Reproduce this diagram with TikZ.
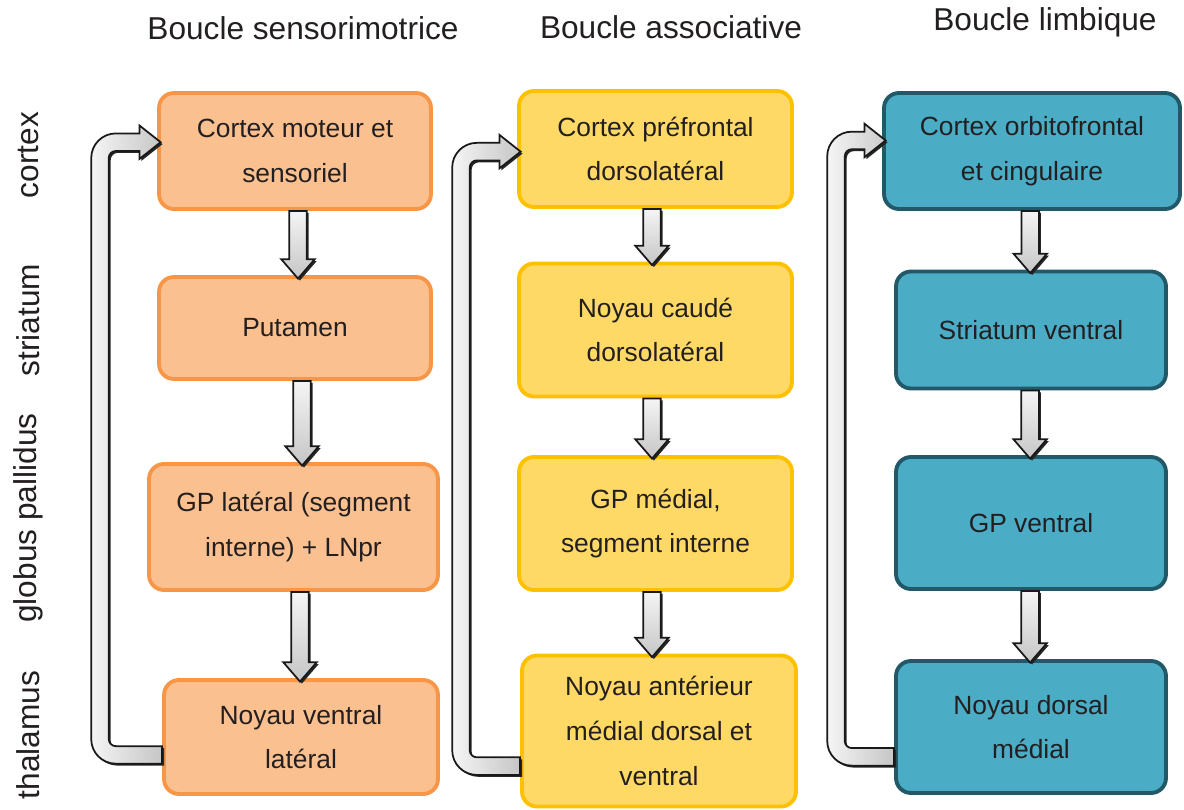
\documentclass[tikz,border=0pt]{standalone}
\usepackage{fontspec}
\setmainfont{Liberation Sans}
\usetikzlibrary{calc,shadows}

\definecolor{orfill}{HTML}{FAC090}
\definecolor{ordraw}{HTML}{F79646}
\definecolor{yefill}{HTML}{FFD966}
\definecolor{yedraw}{HTML}{FFC000}
\definecolor{tefill}{HTML}{4BACC6}
\definecolor{tedraw}{HTML}{215968}
\definecolor{txt}{HTML}{231F20}

% straight block arrow: source, target, x shift
\newcommand\blockdown[3]{%
\path[blockarrow,top color=gray!8,bottom color=gray!45] let \p1=(#1.south), \p2=(#2.north) in
  ({\x1+#3-5pt},\y1) -- ({\x1+#3+5pt},\y1) -- ({\x1+#3+5pt},{\y2+9pt})
  -- ({\x1+#3+9.5pt},{\y2+9pt}) -- ({\x1+#3},{\y2-2pt}) -- ({\x1+#3-9.5pt},{\y2+9pt})
  -- ({\x1+#3-5pt},{\y2+9pt}) -- cycle;}

% return arrow: source, target, shaft coordinate, source y shift, target y shift
\newcommand\loopback[5]{%
\path[blockarrow,left color=gray!8,right color=gray!45] let \p1=($(#1.west)+(0,#4)$), \p2=($(#2.west)+(0,#5)$), \p3=(#3) in
  (\x1,{\y1-5pt}) -- ({\x3+9pt},{\y1-5pt}) arc[start angle=270,end angle=180,radius=14pt]
  -- ({\x3-5pt},{\y2-9pt}) arc[start angle=180,end angle=90,radius=14pt]
  -- ({\x2-10pt},{\y2+5pt}) -- ({\x2-10pt},{\y2+9.5pt}) -- ({\x2+2pt},\y2)
  -- ({\x2-10pt},{\y2-9.5pt}) -- ({\x2-10pt},{\y2-5pt})
  -- ({\x3+9pt},{\y2-5pt}) arc[start angle=90,end angle=180,radius=4pt]
  -- ({\x3+5pt},{\y1+9pt}) arc[start angle=180,end angle=270,radius=4pt]
  -- (\x1,{\y1+5pt}) -- cycle;}

\begin{document}
\begin{tikzpicture}[x=0.02cm,y=-0.02cm,
  every node/.append style={text=txt},
  box/.style={rounded corners=8.5pt,line width=2.2pt,align=center,inner sep=0pt,
    font=\fontsize{15}{25.5}\selectfont},
  orbox/.style={box,draw=ordraw,fill=orfill},
  yebox/.style={box,draw=yedraw,fill=yefill},
  tebox/.style={box,draw=tedraw,fill=tefill},
  title/.style={font=\fontsize{18}{22}\selectfont},
  side/.style={font=\fontsize{18}{22}\selectfont,rotate=90},
  blockarrow/.style={draw=black!90,line width=1pt,
    drop shadow={shadow xshift=1.1pt,shadow yshift=-1.1pt,opacity=1,fill=black!85}}]
\useasboundingbox (0,0) rectangle (1184,810);

\node[title] (t1) at (303,28) {Boucle sensorimotrice};
\node[title] (t2) at (671,27) {Boucle associative};
\node[title] (t3) at (1045,22) {Boucle limbique};

\node[side] (s1) at (28,155) {cortex};
\node[side] (s2) at (28,320) {striatum};
\node[side] (s3) at (28,518) {globus pallidus};
\node[side] (s4) at (28,735) {thalamus};

\node[orbox,minimum width=5.44cm,minimum height=2.32cm] (a1) at (295,151) {Cortex moteur et\\sensoriel};
\node[orbox,minimum width=5.44cm,minimum height=2.04cm] (a2) at (295,328) {Putamen};
\node[orbox,minimum width=5.78cm,minimum height=2.52cm] (a3) at (293.5,527) {GP latéral (segment\\interne) + LNpr};
\node[orbox,minimum width=5.48cm,minimum height=2.28cm] (a4) at (301,737) {Noyau ventral\\latéral};

\node[yebox,minimum width=5.46cm,minimum height=2.32cm] (b1) at (655.5,149) {Cortex préfrontal\\dorsolatéral};
\node[yebox,minimum width=5.46cm,minimum height=2.66cm] (b2) at (655.5,330) {Noyau caudé\\dorsolatéral};
\node[yebox,minimum width=5.46cm,minimum height=2.66cm] (b3) at (655.5,523.5) {GP médial,\\segment interne};
\node[yebox,minimum width=5.48cm,minimum height=3.02cm] (b4) at (659,731) {Noyau antérieur\\médial dorsal et\\ventral};

\node[tebox,minimum width=5.92cm,minimum height=2.32cm] (c1) at (1032,151) {Cortex orbitofrontal\\et cingulaire};
\node[tebox,minimum width=5.40cm,minimum height=2.34cm] (c2) at (1031,330) {Striatum ventral};
\node[tebox,minimum width=5.40cm,minimum height=2.64cm] (c3) at (1031,523) {GP ventral};
\node[tebox,minimum width=5.40cm,minimum height=2.64cm] (c4) at (1031,727) {Noyau dorsal\\médial};

\blockdown{a1}{a2}{1.7pt}
\blockdown{a2}{a3}{4pt}
\blockdown{a3}{a4}{3.7pt}
\blockdown{b1}{b2}{-2pt}
\blockdown{b2}{b3}{-2pt}
\blockdown{b3}{b4}{-2pt}
\blockdown{c1}{c2}{-1pt}
\blockdown{c2}{c3}{-0.5pt}
\blockdown{c3}{c4}{-0.5pt}

\coordinate (r1) at (100,450);
\coordinate (r2) at (461,450);
\coordinate (r3) at (836,450);
\loopback{a4}{a1}{r1}{-10.2pt}{5pt}
\loopback{b4}{b1}{r2}{-20pt}{-1.5pt}
\loopback{c4}{c1}{r3}{-17pt}{6pt}
\end{tikzpicture}
\end{document}
